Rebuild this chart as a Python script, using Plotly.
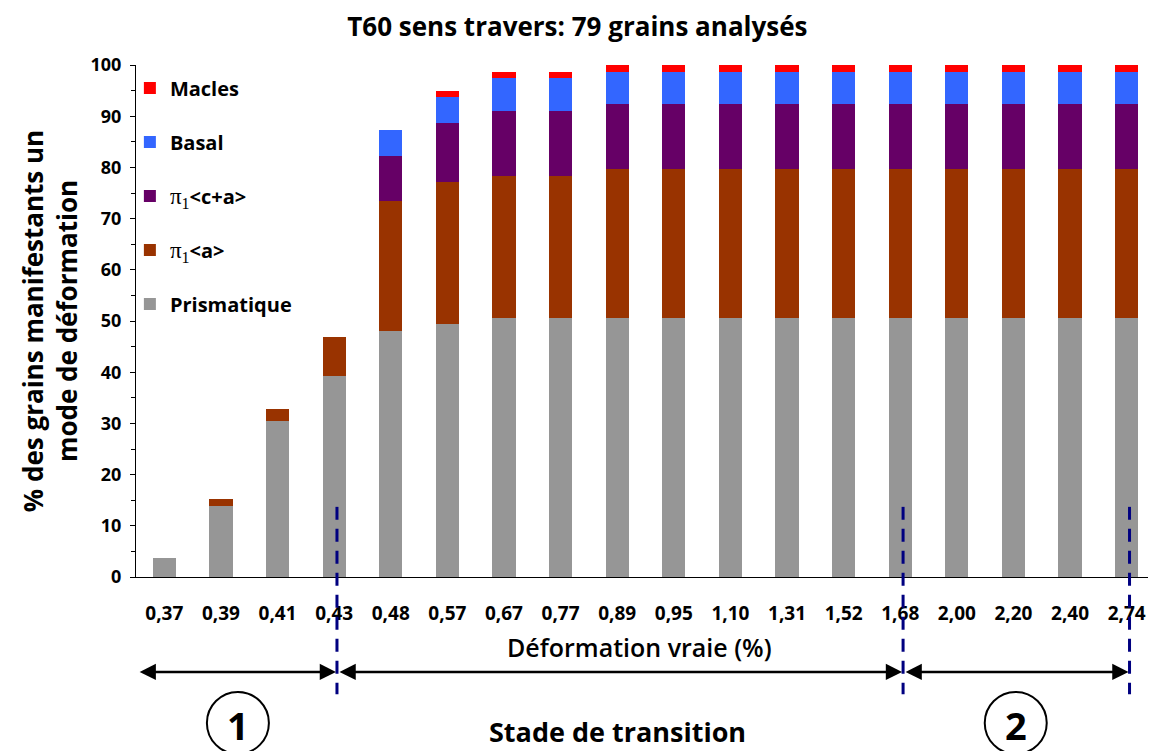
import plotly.graph_objects as go

categories = ["0,37", "0,39", "0,41", "0,43", "0,48", "0,57", "0,67", "0,77", "0,89",
              "0,95", "1,10", "1,31", "1,52", "1,68", "2,00", "2,20", "2,40", "2,74"]

prismatique = [3.8, 13.9, 30.4, 39.2, 48.1, 49.4, 50.6, 50.6, 50.6,
               50.6, 50.6, 50.6, 50.6, 50.6, 50.6, 50.6, 50.6, 50.6]
pi1_a = [0, 1.3, 2.5, 7.6, 25.3, 27.8, 27.8, 27.8, 29.1,
         29.1, 29.1, 29.1, 29.1, 29.1, 29.1, 29.1, 29.1, 29.1]
pi1_ca = [0, 0, 0, 0, 8.9, 11.4, 12.7, 12.7, 12.7,
          12.7, 12.7, 12.7, 12.7, 12.7, 12.7, 12.7, 12.7, 12.7]
basal = [0, 0, 0, 0, 5.1, 5.1, 6.3, 6.3, 6.3,
         6.3, 6.3, 6.3, 6.3, 6.3, 6.3, 6.3, 6.3, 6.3]
macles = [0, 0, 0, 0, 0, 1.3, 1.3, 1.3, 1.3,
          1.3, 1.3, 1.3, 1.3, 1.3, 1.3, 1.3, 1.3, 1.3]

# stage limits (category labels)
limits = ["0,43", "1,68", "2,74"]

FONT = "Open Sans"
pi = "<span style='font-family:Liberation Serif;font-size:23px;font-weight:normal'>π<sub>1</sub></span>"

series = [
    ("Prismatique", prismatique, "#969696"),
    (pi + "&lt;a&gt;", pi1_a, "#993300"),
    (pi + "&lt;c+a&gt;", pi1_ca, "#660066"),
    ("Basal", basal, "#3366FF"),
    ("Macles", macles, "#FF0000"),
]

fig = go.Figure()
for i, (name, vals, col) in enumerate(series):
    fig.add_trace(go.Bar(x=categories, y=vals, name=name, marker_color=col,
                         marker_line_width=0, width=0.41, legendgroup=str(i),
                         legendrank=len(series) - i))

# the page body has an 8px margin, so the figure is 8px smaller and shifted
fig.update_layout(
    barmode="stack",
    width=1148, height=743,
    plot_bgcolor="white", paper_bgcolor="white",
    margin=dict(l=128, r=1, t=57, b=174),
    font=dict(family=FONT, color="black", size=18),
    title=dict(text="<b>T60 sens travers: 79 grains analysés</b>", x=0.496, xanchor="center",
               y=1 - 19 / 743, yanchor="middle", font=dict(size=26, family=FONT)),
    showlegend=True,
    legend=dict(x=-0.006, y=0.993, xanchor="left", yanchor="top", traceorder="grouped",
                tracegroupgap=25, bgcolor="rgba(0,0,0,0)",
                font=dict(size=20, family=FONT, weight="bold"), itemwidth=30),
)

fig.update_xaxes(showline=True, linecolor="black", linewidth=1, ticks="",
                 tickfont=dict(size=19, weight="bold"), ticklabelstandoff=19,
                 range=[-0.5, len(categories) - 0.5])
fig.update_yaxes(range=[0, 100], dtick=10, showgrid=False, showline=True, linecolor="black",
                 linewidth=1, ticks="outside", ticklen=5, tickcolor="black",
                 tickfont=dict(size=18, weight="bold"), ticklabelstandoff=5,
                 minor=dict(dtick=5, ticks="outside", ticklen=4, tickcolor="black"),
                 title=dict(text="<b>% des grains manifestants un<br>mode de déformation</b>",
                            font=dict(size=26), standoff=5))

fig.add_annotation(text="Déformation vraie (%)", xref="paper", yref="paper", x=0.494, y=-0.137,
                   showarrow=False, font=dict(size=25, weight=600), yanchor="middle")

# dashed stage limits
for lab in limits:
    xi = categories.index(lab) + 0.05
    fig.add_shape(type="line", xref="x", yref="paper", x0=xi, x1=xi, y0=0.137, y1=-0.229,
                  line=dict(color="#000080", width=3, dash="13px,9px"))

# double arrows
ya = -0.1855
stops = [-0.48] + [categories.index(lab) + 0.05 for lab in limits]
for a, b in zip(stops[:-1], stops[1:]):
    fig.add_annotation(x=b, y=ya, xref="x", yref="paper", ax=a, ay=0, axref="x", ayref="pixel",
                       text="", showarrow=True, arrowhead=2, startarrowhead=2, arrowside="end+start",
                       arrowsize=1.3, startarrowsize=1.3, arrowwidth=2.5, arrowcolor="black",
                       standoff=1, startstandoff=1)

# circled stage numbers
for num, xc in [("1", 1.3), ("2", 15.04)]:
    fig.add_shape(type="circle", xref="x", yref="paper", xsizemode="pixel", ysizemode="pixel",
                  xanchor=xc, yanchor=-0.285, x0=-31, x1=31, y0=-31, y1=31,
                  line=dict(color="black", width=2))
    fig.add_annotation(text="<b>" + num + "</b>", x=xc, y=-0.29, xref="x", yref="paper",
                       showarrow=False, font=dict(size=38), yanchor="middle")

fig.add_annotation(text="<b>Stade de transition</b>", x=8.0, y=-0.301, xref="x", yref="paper",
                   showarrow=False, font=dict(size=27), yanchor="middle")

fig.write_html("out.html")
